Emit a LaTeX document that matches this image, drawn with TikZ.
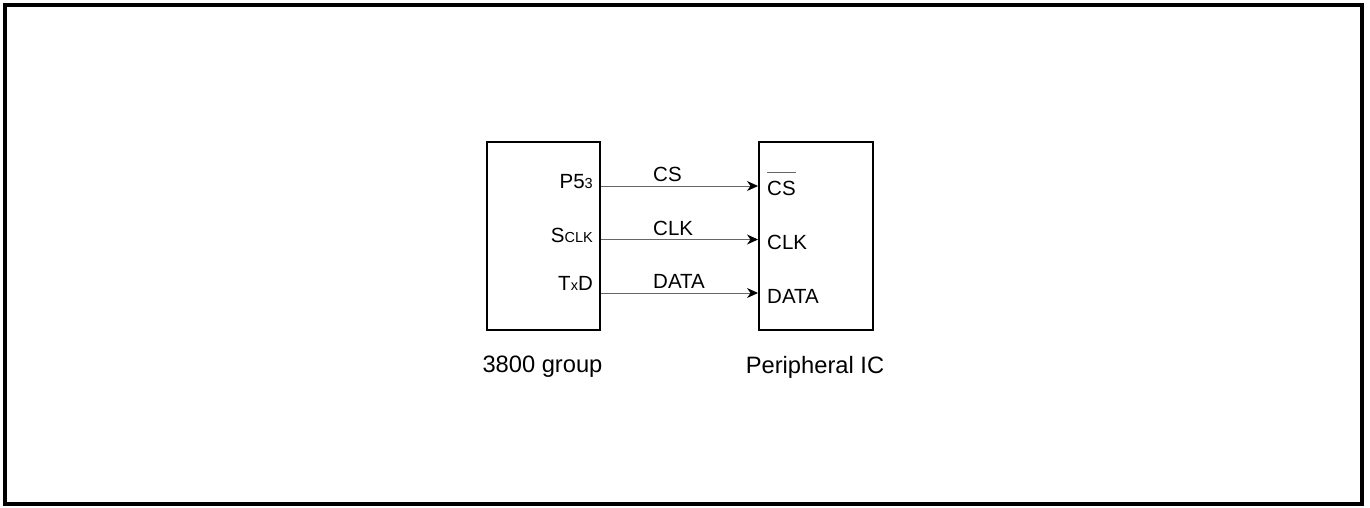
\documentclass[tikz,border=0pt]{standalone}
\usepackage{fontspec}
\setmainfont{Liberation Sans}
\usetikzlibrary{arrows.meta}
\begin{document}
\begin{tikzpicture}[x=1pt,y=-1pt,
  chip/.style={draw, line width=2pt, minimum width=113pt, minimum height=188pt, inner sep=0pt},
  sig/.style={draw=black!60, line width=1pt, -{Stealth[length=11pt,width=10pt,inset=3.5pt,color=black]}},
  lbl/.style={font=\fontsize{20.5}{23}\selectfont, inner sep=0pt},
  capt/.style={font=\fontsize{23.7}{26}\selectfont, inner sep=0pt}]
\useasboundingbox (0,0) rectangle (1370,507);
\draw[line width=4pt] (5,5) rectangle (1362,504);
\node[chip] (mcu) at (543.5,236) {};
\node[chip, minimum width=114pt] (pic) at (816,236) {};
\coordinate (ya) at (0,186);
\coordinate (yb) at (0,239.5);
\coordinate (yc) at (0,293);
\draw[sig] (mcu.east |- ya) -- (pic.west |- ya);
\draw[sig] (mcu.east |- yb) -- (pic.west |- yb);
\draw[sig] (mcu.east |- yc) -- (pic.west |- yc);
% labels on lines
\node[lbl, anchor=base west] (lcs) at (653,181) {CS};
\node[lbl, anchor=base west] (lclk) at (653,235) {CLK};
\node[lbl, anchor=base west] (ldata) at (653,288) {DATA};
% left pins
\node[lbl, anchor=base east] (p53) at (593,188) {P5{\fontsize{14.5}{16}\selectfont 3}};
\node[lbl, anchor=base east] (sclk) at (593,242) {S{\fontsize{14.5}{16}\selectfont CLK}};
\node[lbl, anchor=base east] (txd) at (593,290) {T{\fontsize{14.5}{16}\selectfont x}D};
% right pins
\node[lbl, anchor=base west] (rcs) at (767,195) {CS};
\draw[black!60, line width=1pt] ([yshift=8pt]rcs.north west) -- ([yshift=8pt]rcs.north east);
\node[lbl, anchor=base west] (rclk) at (767,249) {CLK};
\node[lbl, anchor=base west] (rdata) at (767,303) {DATA};
% captions
\node[capt, anchor=base] (c1) at (542.5,372) {3800 group};
\node[capt, anchor=base] (c2) at (815,373) {Peripheral IC};
\end{tikzpicture}
\end{document}
